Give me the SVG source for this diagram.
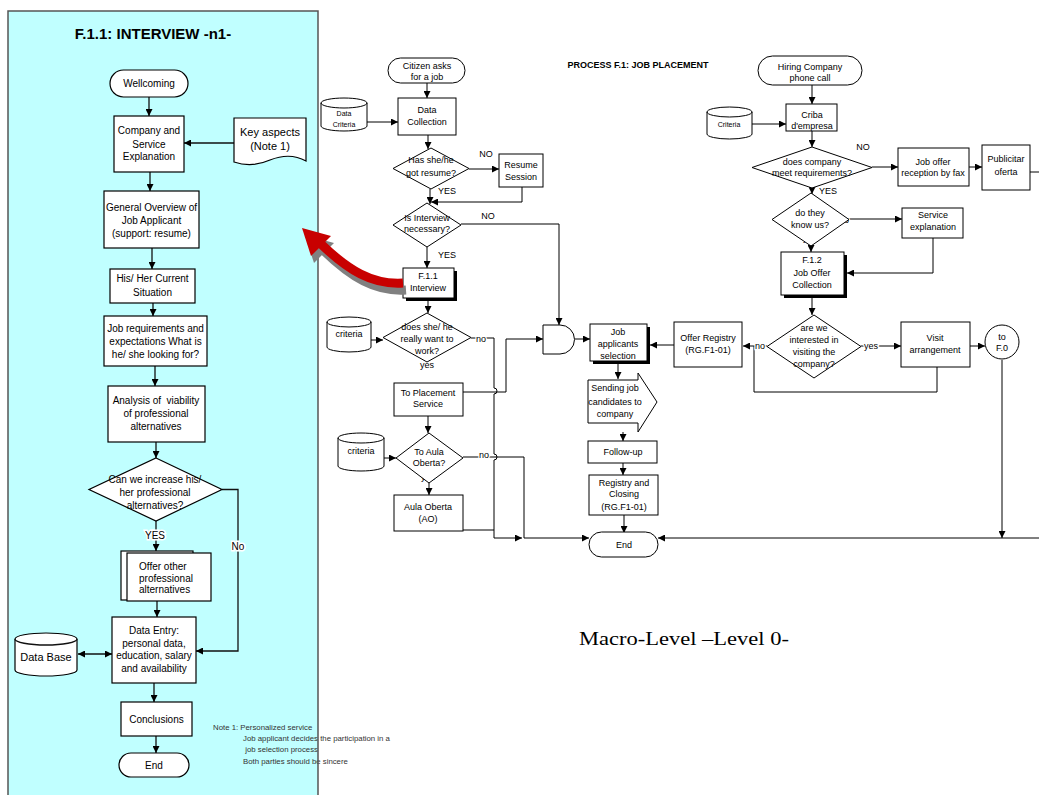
<svg xmlns="http://www.w3.org/2000/svg" width="1039" height="795" viewBox="0 0 1039 795">
  <defs>
    <marker id="ah" viewBox="0 0 8 8" refX="8" refY="4" markerWidth="7" markerHeight="7" markerUnits="userSpaceOnUse" orient="auto-start-reverse">
      <path d="M0,0 L8,4 L0,8 z" fill="#000"/>
    </marker>
    <style>
      .box{fill:#fff;stroke:#000;stroke-width:1}
      .lbox{fill:#fff;stroke:#000;stroke-width:1.2}
      .shadow{fill:#000}
      .t{font-family:"Liberation Sans",Arial,sans-serif;font-size:9px;text-anchor:middle;fill:#000}
      .t10{font-family:"Liberation Sans",Arial,sans-serif;font-size:10px;text-anchor:middle;fill:#000}
      .t11{font-family:"Liberation Sans",Arial,sans-serif;font-size:11px;text-anchor:middle;fill:#000}
      .t7{font-family:"Liberation Sans",Arial,sans-serif;font-size:7px;text-anchor:middle;fill:#000}
      .lab{font-family:"Liberation Sans",Arial,sans-serif;font-size:9px;text-anchor:middle;fill:#000;stroke:#fff;stroke-width:2.5;paint-order:stroke}
      .lab10{font-family:"Liberation Sans",Arial,sans-serif;font-size:10px;text-anchor:middle;fill:#000;stroke:#fff;stroke-width:3;paint-order:stroke}
      .note{font-family:"Liberation Sans",Arial,sans-serif;font-size:7.8px;fill:#333}
      .c{fill:none;stroke:#000;stroke-width:1;marker-end:url(#ah)}
      .cn{fill:none;stroke:#000;stroke-width:1}
      .lc{fill:none;stroke:#111;stroke-width:1.3;marker-end:url(#ah)}
      .lcn{fill:none;stroke:#111;stroke-width:1.3}
    </style>
  </defs>

  <rect width="1039" height="795" fill="#fff"/>

  <!-- Sub-process panel background -->
  <rect id="panel-fill" x="8" y="11" width="310" height="790" fill="#C0FFFF"/>
  <text x="153" y="39" font-family="'Liberation Sans',Arial,sans-serif" font-size="15" font-weight="bold" text-anchor="middle">F.1.1: INTERVIEW -n1-</text>

  <!-- Sub-process connectors -->
  <g id="panel-connectors">
    <path class="lc" d="M149,97 V116"/>
    <path class="lc" d="M234,143 H184"/>
    <path class="lc" d="M150,172 V191"/>
    <path class="lc" d="M152,248 V269"/>
    <path class="lc" d="M153,303 V316"/>
    <path class="lc" d="M155,366 V386"/>
    <path class="lc" d="M156,442 V458"/>
    <path class="lc" d="M156,521 V551"/>
    <path class="lc" d="M222,489.5 H238 V651 H196"/>
    <path class="lc" d="M157,601 V617"/>
    <path class="lc" d="M78,654 H112" marker-start="url(#ah)"/>
    <path class="lc" d="M154,683 V702"/>
    <path class="lc" d="M156,736 V753"/>
    <text class="lab10" x="155" y="539">YES</text>
    <text class="lab10" x="238" y="550">No</text>
  </g>

  <g id="wellcoming">
    <rect class="lbox" x="110" y="70" width="78" height="27" rx="13.5"/>
    <text class="t10" x="149" y="87">Wellcoming</text>
  </g>
  <g id="company-explanation">
    <rect class="lbox" x="114" y="116" width="70" height="56"/>
    <text class="t10" x="149" y="133.5">Company and</text>
    <text class="t10" x="149" y="147.5">Service</text>
    <text class="t10" x="149" y="159.5">Explanation</text>
  </g>
  <g id="key-aspects">
    <path class="lbox" d="M234,118 H306 V161 Q290,152 270,160 Q252,168 234,162 Z"/>
    <text class="t11" x="270" y="136">Key aspects</text>
    <text class="t11" x="270" y="150">(Note 1)</text>
  </g>
  <g id="general-overview">
    <rect class="lbox" x="104" y="191" width="95" height="57"/>
    <text class="t10" x="151.5" y="210.5">General Overview of</text>
    <text class="t10" x="151.5" y="223.5">Job Applicant</text>
    <text class="t10" x="151.5" y="236.5">(support: resume)</text>
  </g>
  <g id="current-situation">
    <rect class="lbox" x="110" y="269" width="85" height="34"/>
    <text class="t10" x="152.5" y="281.5">His/ Her Current</text>
    <text class="t10" x="152.5" y="295.5">Situation</text>
  </g>
  <g id="job-requirements">
    <rect class="lbox" x="104" y="316" width="103" height="50"/>
    <text class="t10" x="155.5" y="331.5">Job requirements and</text>
    <text class="t10" x="155.5" y="344.5">expectations What is</text>
    <text class="t10" x="155.5" y="357.5">he/ she looking for?</text>
  </g>
  <g id="analysis">
    <rect class="lbox" x="108" y="386" width="97" height="56"/>
    <text class="t10" x="156" y="403.5" xml:space="preserve">Analysis of  viability</text>
    <text class="t10" x="156" y="416.5">of professional</text>
    <text class="t10" x="156" y="429.5">alternatives</text>
  </g>
  <g id="increase-decision">
    <polygon class="lbox" points="156,458 222,489.5 156,521 89,489.5"/>
    <text class="t10" x="155" y="482.5">Can we increase his/</text>
    <text class="t10" x="155" y="495.5">her professional</text>
    <text class="t10" x="155" y="508.5">alternatives?</text>
  </g>
  <g id="offer-alternatives">
    <rect class="lbox" x="121" y="551" width="72" height="49"/>
    <rect class="lbox" x="127" y="553" width="84" height="48"/>
    <text class="t10" x="139" y="569.5" style="text-anchor:start">Offer other</text>
    <text class="t10" x="139" y="581.5" style="text-anchor:start">professional</text>
    <text class="t10" x="139" y="592.5" style="text-anchor:start">alternatives</text>
  </g>
  <g id="data-entry">
    <rect class="lbox" x="112" y="617" width="84" height="66"/>
    <text class="t10" x="154" y="633.5">Data Entry:</text>
    <text class="t10" x="154" y="646.5">personal data,</text>
    <text class="t10" x="154" y="658.5">education, salary</text>
    <text class="t10" x="154" y="671.5">and availability</text>
  </g>
  <g id="data-base">
    <path class="lbox" d="M15,639 A31,6 0 0 1 77,639 V670 A31,6 0 0 1 15,670 Z"/>
    <path class="lcn" d="M15,639 A31,6 0 0 0 77,639"/>
    <text class="t11" x="46" y="661">Data Base</text>
  </g>
  <g id="conclusions">
    <rect class="lbox" x="121" y="702" width="71" height="34"/>
    <text class="t10" x="156.5" y="722.5">Conclusions</text>
  </g>
  <g id="panel-end">
    <rect class="lbox" x="119" y="753" width="70" height="24" rx="12"/>
    <text class="t10" x="154" y="768.5">End</text>
  </g>

  <!-- Note under the sub-process -->
  <g id="note">
    <text class="note" x="213" y="730">Note 1: Personalized service</text>
    <text class="note" x="243" y="741">Job applicant decides the participation in a</text>
    <text class="note" x="243" y="752" xml:space="preserve"> job selection process</text>
    <text class="note" x="243" y="764">Both parties should be sincere</text>
  </g>

  <!-- Panel border drawn above its content -->
  <rect id="panel-border" x="8" y="11" width="310" height="790" fill="none" stroke="#555" stroke-width="1.5"/>

  <!-- Main process -->
  <text x="638" y="68" font-family="'Liberation Sans',Arial,sans-serif" font-size="9" font-weight="bold" text-anchor="middle">PROCESS F.1: JOB PLACEMENT</text>

  <g id="connectors">
    <path class="c" d="M427,83 V98"/>
    <path class="c" d="M367,122 H398"/>
    <path class="c" d="M428,135 V149"/>
    <path class="c" d="M469,169 H499"/>
    <path class="c" d="M522,187 V202 H431"/>
    <path class="c" d="M430,189 V204"/>
    <path class="c" d="M461,224 H559 V325"/>
    <path class="c" d="M427,247 V268"/>
    <path class="c" d="M428,298 V313"/>
    <path class="c" d="M371,340 H383"/>
    <path class="c" d="M471,338 H494 V388 A3,3 0 0 1 494,394 V454 A3,3 0 0 1 494,460 V538 H522"/>
    <path class="c" d="M463,392 H506 V339 H543"/>
    <path class="c" d="M428,416 V433"/>
    <path class="c" d="M384,458 H396"/>
    <path class="c" d="M463,457 H524 V538 H589"/>
    <path class="cn" d="M463,530 H494"/>
    <path class="c" d="M429,483 V495"/>
    <path class="c" d="M575,339 H590"/>
    <path class="c" d="M674,345 H650"/>
    <path class="c" d="M618,364 V379"/>
    <path class="c" d="M623,432 V441"/>
    <path class="c" d="M623,463 V475"/>
    <path class="c" d="M624,515 V533"/>
    <path class="c" d="M1002,360 V538"/>
    <path class="c" d="M1039,538 H658"/>

    <path class="c" d="M812,85 V104"/>
    <path class="c" d="M752,124 H786"/>
    <path class="c" d="M812,131 V147"/>
    <path class="c" d="M872,167 H898"/>
    <path class="c" d="M969,167 H982"/>
    <path class="cn" d="M1030,172 H1039"/>
    <path class="c" d="M812,188 V194"/>
    <path class="c" d="M849,219 H902"/>
    <path class="c" d="M933,238 V273 H847"/>
    <path class="c" d="M811,246 V252"/>
    <path class="c" d="M812,298 V315"/>
    <path class="c" d="M767,346 H743"/>
    <path class="c" d="M861,346 H901"/>
    <path class="c" d="M970,346 H985"/>
    <path class="cn" d="M937,367 V392 H754 V346"/>

    <text class="lab" x="486" y="157">NO</text>
    <text class="lab" x="447" y="194">YES</text>
    <text class="lab" x="488" y="219">NO</text>
    <text class="lab" x="447" y="258">YES</text>
    <text class="lab" x="481" y="342">no</text>
    <text class="lab" x="427" y="368">yes</text>
    <text class="lab" x="484" y="458">no</text>
    <text class="lab" x="428" y="480">yes</text>
    <text class="lab" x="863" y="150">NO</text>
    <text class="lab" x="828" y="194">YES</text>
    <text class="lab" x="844" y="223">no</text>
    <text class="lab" x="810" y="241">yes</text>
    <text class="lab" x="760" y="349">no</text>
    <text class="lab" x="871" y="349">yes</text>
  </g>

  <g id="citizen-asks">
    <rect class="box" x="388" y="58" width="77" height="25" rx="12.5"/>
    <text class="t" x="427" y="69">Citizen asks</text>
    <text class="t" x="427" y="80">for a job</text>
  </g>
  <g id="data-criteria">
    <path class="box" d="M321,103 A23,5 0 0 1 367,103 V126 A23,5 0 0 1 321,126 Z"/>
    <path class="cn" d="M321,103 A23,5 0 0 0 367,103"/>
    <text class="t7" x="344" y="115.5">Data</text>
    <text class="t7" x="344" y="126.5">Criteria</text>
  </g>
  <g id="data-collection">
    <rect class="box" x="398" y="98" width="58" height="37"/>
    <text class="t" x="427" y="113">Data</text>
    <text class="t" x="427" y="125">Collection</text>
  </g>
  <g id="resume-decision">
    <polygon class="box" points="431,148 469,168.5 431,189 393,168.5"/>
    <text class="t" x="431" y="163">Has she/he</text>
    <text class="t" x="431" y="176">got resume?</text>
  </g>
  <g id="resume-session">
    <rect class="box" x="499" y="154" width="44" height="33"/>
    <text class="t" x="521" y="168">Resume</text>
    <text class="t" x="521" y="180">Session</text>
  </g>
  <g id="interview-decision">
    <polygon class="box" points="427,203 461,225 427,247 393,225"/>
    <text class="t" x="427" y="221">Is Interview</text>
    <text class="t" x="427" y="232">necessary?</text>
  </g>
  <g id="interview">
    <rect class="shadow" x="406" y="271" width="51" height="30"/>
    <rect class="box" x="403" y="268" width="51" height="30"/>
    <text class="t" x="428" y="279">F.1.1</text>
    <text class="t" x="428" y="291">Interview</text>
  </g>
  <g id="criteria-1">
    <path class="box" d="M327,322 A22,5 0 0 1 371,322 V347 A22,5 0 0 1 327,347 Z"/>
    <path class="cn" d="M327,322 A22,5 0 0 0 371,322"/>
    <text class="t" x="349" y="337">criteria</text>
  </g>
  <g id="work-decision">
    <polygon class="box" points="427,313 471,337.5 427,362 383,337.5"/>
    <text class="t" x="427" y="330">does she/ he</text>
    <text class="t" x="427" y="342">really want to</text>
    <text class="t" x="427" y="354">work?</text>
  </g>
  <g id="to-placement">
    <rect class="box" x="394" y="383" width="69" height="33"/>
    <text class="t" x="428" y="396">To Placement</text>
    <text class="t" x="428" y="407">Service</text>
  </g>
  <g id="criteria-2">
    <path class="box" d="M338,438 A23,5 0 0 1 384,438 V466 A23,5 0 0 1 338,466 Z"/>
    <path class="cn" d="M338,438 A23,5 0 0 0 384,438"/>
    <text class="t" x="361" y="454">criteria</text>
  </g>
  <g id="aula-decision">
    <polygon class="box" points="429,433 463,458 429,483 396,458"/>
    <text class="t" x="429" y="455">To Aula</text>
    <text class="t" x="429" y="466">Oberta?</text>
  </g>
  <g id="aula-oberta">
    <rect class="box" x="394" y="495" width="69" height="36"/>
    <text class="t" x="428" y="510">Aula Oberta</text>
    <text class="t" x="428" y="522">(AO)</text>
  </g>
  <g id="and-gate">
    <path class="box" d="M543,325 H560 A14.5,14.5 0 0 1 560,354 H543 Z"/>
  </g>
  <g id="job-applicants-selection">
    <rect class="shadow" x="593" y="327" width="57" height="37"/>
    <rect class="box" x="590" y="324" width="57" height="37"/>
    <text class="t" x="618" y="335">Job</text>
    <text class="t" x="618" y="347">applicants</text>
    <text class="t" x="618" y="359">selection</text>
  </g>
  <g id="offer-registry">
    <rect class="box" x="674" y="322" width="68" height="45"/>
    <text class="t" x="708" y="341">Offer Registry</text>
    <text class="t" x="708" y="353">(RG.F1-01)</text>
  </g>
  <g id="sending-candidates">
    <polygon class="box" points="588,380 638,380 638,373 657,402 638,432 638,423 588,423"/>
    <text class="t" x="615" y="391">Sending job</text>
    <text class="t" x="615" y="405">candidates to</text>
    <text class="t" x="615" y="417">company</text>
  </g>
  <g id="follow-up">
    <rect class="box" x="588" y="441" width="69" height="22"/>
    <text class="t" x="623" y="455">Follow-up</text>
  </g>
  <g id="registry-closing">
    <rect class="box" x="589" y="475" width="69" height="40"/>
    <text class="t" x="624" y="486">Registry and</text>
    <text class="t" x="624" y="497">Closing</text>
    <text class="t" x="624" y="510">(RG.F1-01)</text>
  </g>
  <g id="end">
    <rect class="box" x="589" y="532" width="69" height="25" rx="12.5"/>
    <text class="t" x="624" y="548">End</text>
  </g>

  <g id="hiring-call">
    <rect class="box" x="758" y="56" width="104" height="29" rx="14.5"/>
    <text class="t" x="810" y="70">Hiring Company</text>
    <text class="t" x="810" y="81">phone call</text>
  </g>
  <g id="criteria-company">
    <path class="box" d="M707,112 A22.5,5 0 0 1 752,112 V134 A22.5,5 0 0 1 707,134 Z"/>
    <path class="cn" d="M707,112 A22.5,5 0 0 0 752,112"/>
    <text class="t7" x="729" y="126.5">Criteria</text>
  </g>
  <g id="criba">
    <rect class="box" x="786" y="104" width="51" height="27"/>
    <text class="t" x="812" y="118">Criba</text>
    <text class="t" x="812" y="129">d'empresa</text>
  </g>
  <g id="requirements-decision">
    <polygon class="box" points="812,147 872,167.5 812,188 752,167.5"/>
    <text class="t" x="812" y="165">does company</text>
    <text class="t" x="812" y="176">meet requirements?</text>
  </g>
  <g id="job-offer-fax">
    <rect class="box" x="898" y="148" width="71" height="38"/>
    <text class="t" x="933" y="165">Job offer</text>
    <text class="t" x="933" y="176">reception by fax</text>
  </g>
  <g id="publicitar-oferta">
    <rect class="box" x="982" y="145" width="48" height="45"/>
    <text class="t" x="1006" y="162">Publicitar</text>
    <text class="t" x="1006" y="175">oferta</text>
  </g>
  <g id="know-us-decision">
    <polygon class="box" points="811,193 849,219.5 811,246 772,219.5"/>
    <text class="t" x="810" y="216">do they</text>
    <text class="t" x="810" y="228">know us?</text>
  </g>
  <g id="service-explanation">
    <rect class="box" x="902" y="208" width="61" height="30"/>
    <text class="t" x="933" y="218">Service</text>
    <text class="t" x="933" y="230">explanation</text>
  </g>
  <g id="job-offer-collection">
    <rect class="shadow" x="784" y="255" width="63" height="43"/>
    <rect class="box" x="781" y="252" width="63" height="43"/>
    <text class="t" x="812" y="263">F.1.2</text>
    <text class="t" x="812" y="276">Job Offer</text>
    <text class="t" x="812" y="288">Collection</text>
  </g>
  <g id="visit-decision">
    <polygon class="box" points="814,315 861,346.5 814,378 767,346.5"/>
    <text class="t" x="814" y="331">are we</text>
    <text class="t" x="814" y="343">interested in</text>
    <text class="t" x="814" y="355">visiting the</text>
    <text class="t" x="814" y="367">company?</text>
  </g>
  <g id="visit-arrangement">
    <rect class="box" x="901" y="322" width="69" height="45"/>
    <text class="t" x="935" y="341">Visit</text>
    <text class="t" x="935" y="353">arrangement</text>
  </g>
  <g id="to-f0">
    <circle class="box" cx="1002" cy="342" r="17"/>
    <text class="t" x="1002" y="340">to</text>
    <text class="t" x="1002" y="351">F.0</text>
  </g>

  <text x="684" y="645" font-family="'Liberation Serif','Times New Roman',serif" font-size="19" text-anchor="middle" textLength="210" lengthAdjust="spacingAndGlyphs">Macro-Level –Level 0-</text>

  <!-- Curved callout arrow from F.1.1 to its detail panel -->
  <g id="zoom-arrow">
    <g transform="translate(3,7)" fill="#808080">
      <path d="M403,283 C372,285 348,270 321,244" fill="none" stroke="#808080" stroke-width="9"/>
      <polygon points="302,228 331,236 311,256"/>
    </g>
    <path d="M403,283 C372,285 348,270 321,244" fill="none" stroke="#C80000" stroke-width="9"/>
    <polygon points="302,228 331,236 311,256" fill="#C80000"/>
  </g>
</svg>
